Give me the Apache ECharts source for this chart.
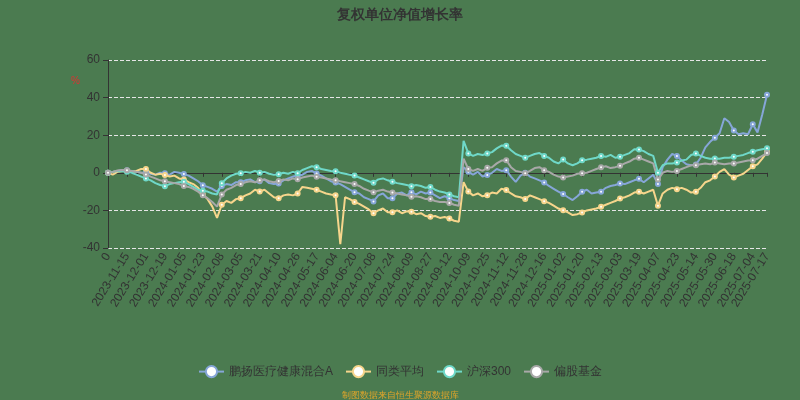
<!DOCTYPE html>
<html>
<head>
<meta charset="utf-8">
<script src="https://cdn.jsdelivr.net/npm/echarts@6/dist/echarts.min.js"></script>
<style>html,body{margin:0;padding:0;background:#4b7b50;}#c{width:800px;height:400px;}</style>
</head>
<body>
<div id="c"></div>
<script>
const categories = [
"0","2023-11-02","2023-11-07","2023-11-10",
"2023-11-15","2023-11-20","2023-11-23","2023-11-28",
"2023-12-01","2023-12-06","2023-12-11","2023-12-14",
"2023-12-19","2023-12-22","2023-12-27","2024-01-02",
"2024-01-05","2024-01-10","2024-01-15","2024-01-18",
"2024-01-23","2024-01-26","2024-01-31","2024-02-05",
"2024-02-08","2024-02-21","2024-02-26","2024-02-29",
"2024-03-05","2024-03-08","2024-03-13","2024-03-18",
"2024-03-21","2024-03-26","2024-03-29","2024-04-03",
"2024-04-10","2024-04-15","2024-04-18","2024-04-23",
"2024-04-26","2024-05-06","2024-05-09","2024-05-14",
"2024-05-17","2024-05-22","2024-05-27","2024-05-30",
"2024-06-04","2024-06-07","2024-06-13","2024-06-17",
"2024-06-20","2024-06-25","2024-06-28","2024-07-03",
"2024-07-08","2024-07-11","2024-07-16","2024-07-19",
"2024-07-24","2024-07-29","2024-08-01","2024-08-06",
"2024-08-09","2024-08-14","2024-08-19","2024-08-22",
"2024-08-27","2024-08-30","2024-09-04","2024-09-09",
"2024-09-12","2024-09-19","2024-09-24","2024-09-27",
"2024-10-09","2024-10-14","2024-10-17","2024-10-22",
"2024-10-25","2024-10-30","2024-11-04","2024-11-07",
"2024-11-12","2024-11-15","2024-11-20","2024-11-25",
"2024-11-28","2024-12-03","2024-12-06","2024-12-11",
"2024-12-16","2024-12-19","2024-12-24","2024-12-27",
"2025-01-02","2025-01-07","2025-01-10","2025-01-15",
"2025-01-20","2025-01-23","2025-02-05","2025-02-10",
"2025-02-13","2025-02-18","2025-02-21","2025-02-26",
"2025-03-03","2025-03-06","2025-03-11","2025-03-14",
"2025-03-19","2025-03-24","2025-03-27","2025-04-01",
"2025-04-07","2025-04-10","2025-04-15","2025-04-18",
"2025-04-23","2025-04-28","2025-05-06","2025-05-09",
"2025-05-14","2025-05-19","2025-05-22","2025-05-27",
"2025-05-30","2025-06-05","2025-06-10","2025-06-13",
"2025-06-18","2025-06-23","2025-06-26","2025-07-01",
"2025-07-04","2025-07-09","2025-07-14","2025-07-17"
];

const fundValues = [
0,0.5,1,1.5, 1.4,1,0.5,0, 0.2,-0.5,-1,0, -0.3,-1,0.5,0,
-0.7,-1.5,-3,-4.5, -6.6,-7.5,-8.5,-10, -7,-6,-6.5,-5, -5,-4,-3.5,-5,
-4.5,-3.5,-5.5,-6, -5.7,-4,-3,-2, -1.6,-1,0.5,1, -0.4,-1.5,-3,-4.5,
-5.2,-6,-7.5,-9, -10.3,-11,-13,-14, -15.2,-12,-11,-13.5, -13.6,-11,-10.5,-12,
-10.4,-11.5,-10,-11, -10.5,-12,-13.5,-12.5, -13.5,-14.5,-15,3, 0.5,-1,0.5,-2,
-1.2,0,2,1, 1.4,-2,-4.8,-1.5, 0,-2,-3,-4, -5.1,-7,-8.5,-10,
-11.3,-13,-14.5,-12.5, -10.1,-9,-11,-10.5, -10.1,-8,-7,-6.5, -5.7,-6,-5,-4,
-3.2,-5,-3,-1, -6,3,7,10, 9,6.5,4.5,4, 4.4,8,13.5,16.5,
18.6,21,29,27, 22.5,20.5,21,20.5, 25.8,21.5,31,41.5
];

const peerAvgValues = [
0,-1,0.5,1, 1,0.5,1,2, 2,0,-1,-0.5, -1.2,-2,-1.5,-3,
-3.5,-5,-6,-8, -11.5,-14,-18,-24, -17,-15,-16,-14, -13.5,-12,-11,-9,
-10,-9,-11,-13, -13.6,-12,-11.5,-12, -11,-7.5,-8,-8.5, -9,-10,-11,-11.5,
-11.9,-38,-13,-14, -15.5,-16.5,-18,-19.5, -21.5,-20,-19,-21, -21,-20,-21.5,-20.5,
-20.7,-22,-21.5,-23, -23.4,-23,-24,-23.5, -24.3,-25.5,-26,-5, -10,-12,-11,-12.5,
-11.9,-10.5,-11,-8.5, -9.2,-11,-12.5,-13, -14,-12,-13,-14, -15.1,-16,-17.5,-19,
-19.9,-21,-22.5,-22, -21.1,-20,-19.5,-19, -18.1,-17,-16,-15, -13.7,-13,-12,-10.5,
-10.1,-11,-10,-9, -17.5,-11,-9,-8, -8.7,-8,-9,-10.5, -10.1,-8,-5,-4,
-2,0.5,2,-1, -2.5,-1.5,-0.5,1.5, 3.5,4.5,7.5,11
];

const hs300Values = [
0,0.5,1,0.8, 0.5,0,-1,-2, -3,-4,-5.5,-6.5, -7.1,-6,-5.5,-5,
-4.8,-6,-7.5,-9, -9.5,-10,-11,-11.5, -5.5,-3,-1.5,-0.5, -0.3,0.5,0,1,
0,0.5,-0.5,-1, -0.8,0,-0.5,0.5, -0.2,1.5,2.5,3.5, 3,2,1.5,1,
0.8,0,-0.5,-1, -1.5,-2.5,-3.5,-4.5, -5.3,-3.5,-3,-4, -4.8,-5.5,-6,-6.5,
-7.1,-6.5,-7,-8, -7.6,-9,-10,-10.5, -11.5,-12.5,-13,17, 10.3,9,10,9.5,
10.3,11,13,14.5, 14.4,12,10,9, 8,9,10,10.5, 9,8,6,5,
7.1,5,4,5, 6.7,7,7.5,8, 9,8.5,9.5,8, 8.5,9.5,10.5,12.5,
12.4,11.5,10,9, 0,4,5,5, 5.5,6.5,7,9.5, 10.3,9,8,7.5,
7.6,7.5,8,8, 8.5,9,9.5,10.5, 11.2,12,12.5,13
];

const equityFundValues = [
0,0.5,1.2,1.5, 1.4,1,0.5,0, -0.9,-2,-3,-4, -4.5,-5,-5.5,-6,
-7,-7.5,-8.5,-10, -12,-13.5,-15.5,-18, -11.5,-9,-8,-6.5, -6,-5,-4.5,-5,
-4,-3.5,-4.5,-5, -4.3,-3.5,-4,-3, -3.4,-2.5,-2,-1.5, -2.1,-2.5,-3,-3.5,
-3.9,-4.5,-5,-5.5, -6,-7,-8.5,-9.5, -10.4,-9.5,-9,-10, -10.5,-11,-11.5,-12,
-12.8,-12.5,-13,-14, -14,-15,-15.5,-15.5, -16,-17,-17.5,7.5, 2,1,2,1,
2.7,3,5,6.5, 6.7,3,1,0.5, -0.3,1,2.5,3, 1.4,0.5,-1,-2,
-2.5,-2,-1.5,-0.5, -0.3,0,1,2, 2.9,3.5,2.5,3, 3.7,5,6,7.5,
8,7,6,5, -3.5,0,1,0.5, 1,2,3,4, 4,4.5,5,4.5,
5.5,5,4.5,5, 5,5.5,6,6.5, 6.7,7.5,9,10.5
];

const seriesNames = ["鹏扬医疗健康混合A","同类平均","沪深300","偏股基金"];
const seriesColors = ["#86a6d8","#f6d58c","#6fd8c8","#a8a8a8"];
const yTicks = {min: -40, max: 60, interval: 20};

const lastIdx = categories.length - 1;
const showIdx = (i) => i % 4 === 0 || i === lastIdx;

const chart = echarts.init(document.getElementById('c'));
const dataSets = [fundValues, peerAvgValues, hs300Values, equityFundValues];

chart.setOption({
  backgroundColor: '#4b7b50',
  animation: false,
  title: [
    {text: '复权单位净值增长率', left: 'center', top: 3,
     textStyle: {fontSize: 14, fontWeight: 'bold', color: '#333'}},
    {text: '制图数据来自恒生聚源数据库', left: 'center', top: 386,
     textStyle: {fontSize: 9, fontWeight: 'normal', color: '#e0a52a'}}
  ],
  graphic: [{type: 'text', left: 71, top: 76, style: {text: '%', fill: '#e03030', fontSize: 10}}],
  legend: {
    data: seriesNames, top: 360, left: 'center', itemWidth: 25, itemHeight: 14, itemGap: 12,
    textStyle: {color: '#333', fontSize: 12}
  },
  grid: {left: 108, right: 33, top: 60, bottom: 152, containLabel: false},
  xAxis: [
    {type: 'category', data: categories, boundaryGap: false, position: 'bottom',
     axisLine: {show: false, onZero: false}, axisTick: {show: false},
     axisLabel: {interval: (i) => showIdx(i), rotate: 58, color: '#333', fontSize: 12, margin: 6}},
    {type: 'category', data: categories, boundaryGap: false, position: 'top',
     axisLine: {show: true, onZero: true, lineStyle: {color: '#333'}},
     axisTick: {show: true, inside: true, length: 4, interval: (i) => showIdx(i), lineStyle: {color: '#333'}},
     axisLabel: {show: false, interval: (i) => showIdx(i)}}
  ],
  yAxis: {
    type: 'value', min: yTicks.min, max: yTicks.max, interval: yTicks.interval,
    axisLine: {show: true, lineStyle: {color: '#333'}},
    axisTick: {show: true, lineStyle: {color: '#333'}},
    axisLabel: {color: '#333', fontSize: 12},
    splitLine: {show: true, lineStyle: {type: 'dashed', color: '#e6e6e6'}}
  },
  series: seriesNames.map((n, k) => ({
    name: n, type: 'line', xAxisIndex: 0, data: dataSets[k],
    color: seriesColors[k], symbol: 'emptyCircle', symbolSize: 4,
    itemStyle: {borderWidth: 1},
    lineStyle: {width: 2}
  }))
});
</script>
</body>
</html>
